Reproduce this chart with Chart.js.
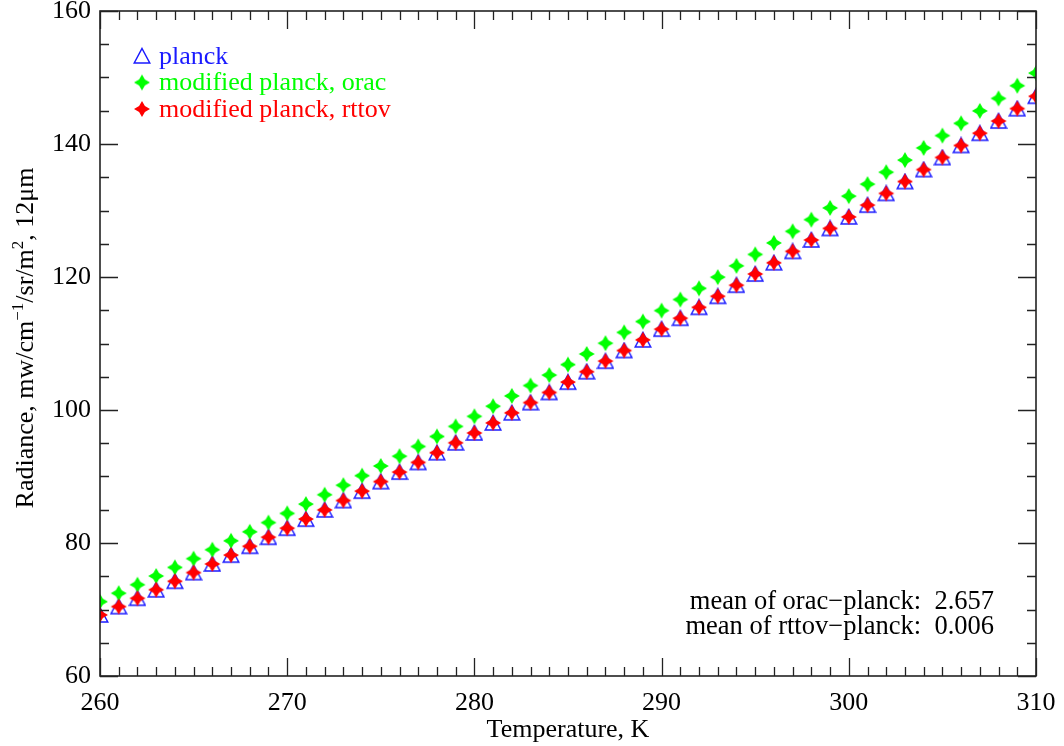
<!DOCTYPE html>
<html>
<head>
<meta charset="utf-8">
<script src="https://cdn.jsdelivr.net/npm/chart.js@4.4.1/dist/chart.umd.min.js"></script>
<style>
  html, body { margin: 0; padding: 0; background: #fff; }
</style>
</head>
<body>
<canvas id="radiance" width="1064" height="746"></canvas>
<script>
// temperatures, K
const temperatures = [
  260, 261, 262, 263, 264, 265, 266, 267, 268, 269,
  270, 271, 272, 273, 274, 275, 276, 277, 278, 279,
  280, 281, 282, 283, 284, 285, 286, 287, 288, 289,
  290, 291, 292, 293, 294, 295, 296, 297, 298, 299,
  300, 301, 302, 303, 304, 305, 306, 307, 308, 309,
  310
];

// radiance values
const planck = [
  69.18, 70.43, 71.69, 72.96, 74.24, 75.54, 76.85, 78.17, 79.51, 80.86,
  82.22, 83.59, 84.98, 86.38, 87.80, 89.22, 90.66, 92.11, 93.58, 95.06,
  96.55, 98.05, 99.57, 101.10, 102.64, 104.19, 105.76, 107.34, 108.94, 110.54,
  112.16, 113.79, 115.44, 117.09, 118.76, 120.45, 122.14, 123.85, 125.57, 127.30,
  129.04, 130.80, 132.57, 134.35, 136.15, 137.96, 139.78, 141.61, 143.45, 145.31,
  147.18
];

const orac = [
  71.18, 72.45, 73.73, 75.03, 76.33, 77.65, 78.99, 80.33, 81.69, 83.07,
  84.45, 85.85, 87.26, 88.69, 90.13, 91.58, 93.05, 94.52, 96.02, 97.53,
  99.05, 100.57, 102.12, 103.68, 105.25, 106.83, 108.43, 110.04, 111.67, 113.30,
  114.95, 116.61, 118.29, 119.98, 121.68, 123.40, 125.13, 126.87, 128.62, 130.39,
  132.16, 133.96, 135.76, 137.58, 139.41, 141.26, 143.11, 144.98, 146.86, 148.76,
  150.66
];

const rttov = [
  69.19, 70.44, 71.69, 72.97, 74.24, 75.55, 76.85, 78.18, 79.51, 80.87,
  82.22, 83.60, 84.98, 86.39, 87.80, 89.23, 90.66, 92.12, 93.58, 95.07,
  96.55, 98.06, 99.57, 101.11, 102.64, 104.20, 105.76, 107.35, 108.94, 110.55,
  112.16, 113.80, 115.44, 117.10, 118.76, 120.46, 122.14, 123.86, 125.57, 127.31,
  129.04, 130.81, 132.57, 134.36, 136.15, 137.97, 139.78, 141.62, 143.45, 145.32,
  147.18
];

const seriesNames = ['planck', 'modified planck, orac', 'modified planck, rttov'];
const statLines = ['mean of orac\u2212planck:  2.657', 'mean of rttov\u2212planck:  0.006'];

const BLUE = '#1a1aff';
const GREEN = '#00ff00';
const RED = '#ff0000';
const FONT = "'Liberation Serif', 'Times New Roman', serif";

// marker images
function makeTriangle(color) {
    const c = document.createElement('canvas');
    c.width = 18; c.height = 18;
    const g = c.getContext('2d');
    g.strokeStyle = color;
    g.lineWidth = 1.5;
    g.beginPath();
    g.moveTo(9, 1.5);
    g.lineTo(16.8, 16);
    g.lineTo(1.2, 16);
    g.closePath();
    g.stroke();
    return c;
}

function makeStar(color) {
    const c = document.createElement('canvas');
    c.width = 18; c.height = 18;
    const g = c.getContext('2d');
    const cx = 9, cy = 9, r = 8, k = 2.9;
    g.fillStyle = color;
    g.beginPath();
    g.moveTo(cx, cy - r);
    g.lineTo(cx + k, cy - k);
    g.lineTo(cx + r, cy);
    g.lineTo(cx + k, cy + k);
    g.lineTo(cx, cy + r);
    g.lineTo(cx - k, cy + k);
    g.lineTo(cx - r, cy);
    g.lineTo(cx - k, cy - k);
    g.closePath();
    g.fill();
    return c;
}

const triangleBlue = makeTriangle(BLUE);
const starGreen = makeStar(GREEN);
const starRed = makeStar(RED);

const toPoints = (ys) => temperatures.map((t, i) => ({ x: t, y: ys[i] }));

// frame with inward ticks, legend, stats and y title
const idlFrame = {
    id: 'idlFrame',
    afterDatasetsDraw(chart) {
        const { ctx, chartArea: a, scales: { x, y } } = chart;
        ctx.save();
        ctx.strokeStyle = '#222';
        ctx.lineWidth = 1.6;
        ctx.strokeRect(a.left, a.top, a.right - a.left, a.bottom - a.top);

        ctx.lineWidth = 1.3;
        ctx.beginPath();
        for (let v = 260; v <= 310; v += 1) {
            const px = Math.round(x.getPixelForValue(v)) + 0.5;
            const len = v % 10 === 0 ? 18 : 9;
            ctx.moveTo(px, a.bottom); ctx.lineTo(px, a.bottom - len);
            ctx.moveTo(px, a.top); ctx.lineTo(px, a.top + len);
        }
        for (let v = 60; v <= 160; v += 5) {
            const py = Math.round(y.getPixelForValue(v)) + 0.5;
            const len = v % 20 === 0 ? 18 : 9;
            ctx.moveTo(a.left, py); ctx.lineTo(a.left + len, py);
            ctx.moveTo(a.right, py); ctx.lineTo(a.right - len, py);
        }
        ctx.stroke();

        // legend
        const symbols = [triangleBlue, starGreen, starRed];
        const colors = [BLUE, GREEN, RED];
        ctx.font = '26px ' + FONT;
        ctx.textBaseline = 'middle';
        ctx.textAlign = 'left';
        seriesNames.forEach((name, i) => {
            const ly = 56 + i * 26.5;
            const s = symbols[i];
            ctx.drawImage(s, 142 - s.width / 2, ly - s.height / 2);
            ctx.fillStyle = colors[i];
            ctx.fillText(name, 159, ly + 1);
        });

        // stats
        ctx.fillStyle = '#000';
        ctx.textAlign = 'right';
        ctx.font = '26.5px ' + FONT;
        statLines.forEach((line, i) => {
            ctx.fillText(line, 994, 602 + i * 25.5);
        });

        // y title with superscripts
        ctx.translate(33, 338);
        ctx.rotate(-Math.PI / 2);
        ctx.textAlign = 'left';
        ctx.textBaseline = 'alphabetic';
        const parts = [
            ['Radiance, mw/cm', false],
            ['\u22121', true],
            ['/sr/m', false],
            ['2', true],
            [', 12\u03bcm', false]
        ];
        const fontFor = (sup) => (sup ? '17px ' : '26px ') + FONT;
        let total = 0;
        parts.forEach(([t, sup]) => { ctx.font = fontFor(sup); total += ctx.measureText(t).width; });
        let cx = -total / 2;
        parts.forEach(([t, sup]) => {
            ctx.font = fontFor(sup);
            ctx.fillText(t, cx, sup ? -10 : 0);
            cx += ctx.measureText(t).width;
        });
        ctx.restore();

        // x title
        ctx.save();
        ctx.font = '26px ' + FONT;
        ctx.fillStyle = '#000';
        ctx.textAlign = 'center';
        ctx.textBaseline = 'middle';
        ctx.fillText('Temperature, K', (a.left + a.right) / 2, 730);
        ctx.restore();
    }
};

new Chart(document.getElementById('radiance'), {
    type: 'scatter',
    data: {
        datasets: [
            {
                label: seriesNames[0],
                data: toPoints(planck),
                pointStyle: triangleBlue,
                order: 3,
                clip: 0
            },
            {
                label: seriesNames[1],
                data: toPoints(orac),
                pointStyle: starGreen,
                order: 2,
                clip: 0
            },
            {
                label: seriesNames[2],
                data: toPoints(rttov),
                pointStyle: starRed,
                order: 1,
                clip: 0
            }
        ]
    },
    options: {
        responsive: false,
        animation: false,
        devicePixelRatio: 1,
        layout: { padding: { left: 0, right: 28, top: 11, bottom: 0 } },
        plugins: {
            legend: { display: false },
            tooltip: { enabled: false }
        },
        scales: {
            x: {
                type: 'linear',
                min: 260,
                max: 310,
                grid: { display: false, drawTicks: false },
                border: { display: false },
                ticks: {
                    stepSize: 10,
                    padding: 12,
                    color: '#000',
                    font: { family: FONT, size: 26 },
                    maxRotation: 0
                },
                afterFit(scale) {
                    scale.height = 70;
                    scale.paddingLeft = 0;
                    scale.paddingRight = 0;
                }
            },
            y: {
                type: 'linear',
                min: 60,
                max: 160,
                grid: { display: false, drawTicks: false },
                border: { display: false },
                ticks: {
                    stepSize: 20,
                    padding: 9,
                    color: '#000',
                    font: { family: FONT, size: 26 }
                },
                afterFit(scale) {
                    scale.width = 100;
                    scale.paddingTop = 0;
                    scale.paddingBottom = 0;
                }
            }
        }
    },
    plugins: [idlFrame]
});
</script>
</body>
</html>
